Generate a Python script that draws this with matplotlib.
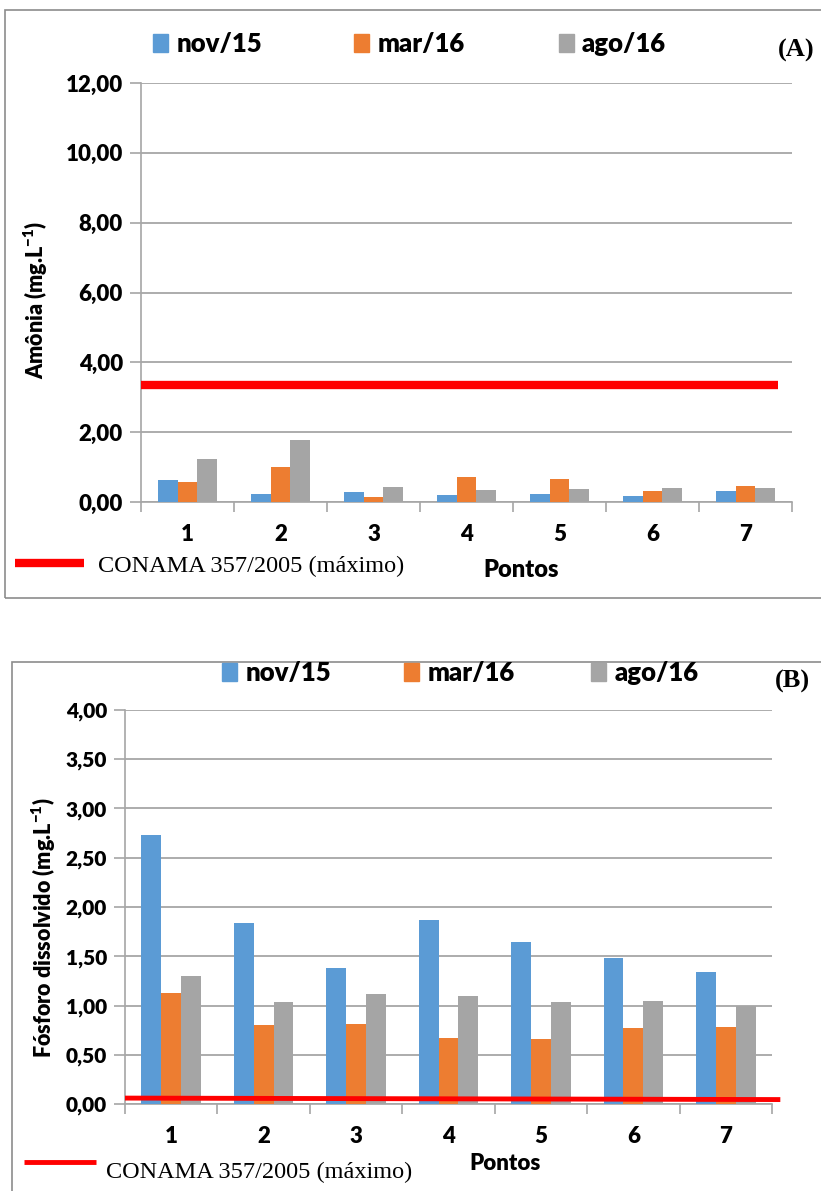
import matplotlib
matplotlib.use('Agg')
import matplotlib.pyplot as plt
from matplotlib.patches import Rectangle, Patch
from matplotlib.lines import Line2D
import numpy as np

pontos = ['1', '2', '3', '4', '5', '6', '7']
series = ['nov/15', 'mar/16', 'ago/16']
cores = ['#5B9BD5', '#ED7D31', '#A5A5A5']

amonia_nov15 = [0.62, 0.22, 0.28, 0.19, 0.24, 0.18, 0.31]
amonia_mar16 = [0.57, 1.00, 0.14, 0.73, 0.65, 0.32, 0.47]
amonia_ago16 = [1.23, 1.78, 0.44, 0.33, 0.37, 0.40, 0.41]
amonia_conama = [3.35, 3.35]

fosforo_nov15 = [2.73, 1.84, 1.38, 1.87, 1.64, 1.48, 1.34]
fosforo_mar16 = [1.13, 0.80, 0.81, 0.67, 0.66, 0.77, 0.78]
fosforo_ago16 = [1.30, 1.04, 1.12, 1.10, 1.04, 1.05, 0.99]
fosforo_conama = [0.06, 0.045]

PESO = 'heavy'
plt.rcParams['font.family'] = ['Lato', 'DejaVu Sans']
plt.rcParams['mathtext.fontset'] = 'custom'
plt.rcParams['mathtext.bf'] = 'Lato:heavy'
plt.rcParams['mathtext.rm'] = 'Lato:heavy'

fig = plt.figure(figsize=(8.21, 11.91), dpi=100)
W, H = 821, 1191

def fx(px):
    return px / W

def fy(py):
    return 1 - py / H

# panel frames
fig.patches.append(Rectangle((fx(5), fy(598)), fx(830), fy(10) - fy(598),
                             transform=fig.transFigure, fill=False, ec='#8C8C8C', lw=1.2))
fig.patches.append(Rectangle((fx(12), fy(1200)), fx(830), fy(662) - fy(1200),
                             transform=fig.transFigure, fill=False, ec='#8C8C8C', lw=1.2))


def painel(ax, dados, ymax, step, ylabel, conama, xline, lw_red, fs_tick):
    x = np.arange(1, len(pontos) + 1)
    w = 0.215
    for i, (vals, c) in enumerate(zip(dados, cores)):
        ax.bar(x + (i - 1) * w, vals, w, color=c, zorder=3)
    ax.plot(xline, conama, color='#FF0000', lw=lw_red, zorder=4, clip_on=False,
            solid_capstyle='butt')
    ax.set_xlim(0.5, len(pontos) + 0.5)
    ax.set_ylim(0, ymax)
    yt = np.arange(0, ymax + step / 2, step)
    ax.set_yticks(yt)
    ax.set_yticklabels([f'{v:.2f}'.replace('.', ',') for v in yt],
                       fontsize=fs_tick, fontweight=PESO)
    ax.yaxis.grid(True, color='#A6A6A6', lw=1.3, zorder=0)
    ax.tick_params(axis='y', length=8, color='#A6A6A6', width=1.2, pad=5)
    ax.set_xticks(np.arange(0.5, len(pontos) + 1, 1))
    ax.set_xticklabels([])
    ax.set_xticks(x, minor=True)
    ax.set_xticklabels(pontos, minor=True, fontsize=16, fontweight=PESO)
    ax.tick_params(axis='x', which='major', length=7, color='#A6A6A6', width=1.2)
    ax.tick_params(axis='x', which='minor', length=0, pad=16)
    for s in ['top', 'right']:
        ax.spines[s].set_visible(False)
    for s in ['left', 'bottom']:
        ax.spines[s].set_color('#A6A6A6')
        ax.spines[s].set_linewidth(1.2)
    ax.set_ylabel(ylabel, fontsize=15.5, fontweight=PESO)


# Panel A
axA = fig.add_axes([fx(141), fy(502), fx(792 - 141), fy(83) - fy(502)])
painel(axA, [amonia_nov15, amonia_mar16, amonia_ago16], 12, 2,
       r'Amônia (mg.L$^{-1}$)', amonia_conama, [0.5, 7.35], 6, 16)
axA.yaxis.set_label_coords(-(141 - 50) / 651, (502 - 300) / 419)

# Panel B
axB = fig.add_axes([fx(125), fy(1104), fx(772 - 125), fy(710) - fy(1104)])
painel(axB, [fosforo_nov15, fosforo_mar16, fosforo_ago16], 4, 0.5,
       r'Fósforo dissolvido (mg.L$^{-1}$)', fosforo_conama, [0.5, 7.59], 3.5, 15)
axB.yaxis.set_label_coords(-(125 - 58) / 647, (1104 - 928) / 394)

# top legends, one entry each
def entrada(i, xpx, ypx):
    fig.legend([Patch(color=cores[i])], [series[i]], loc='center left',
               bbox_to_anchor=(fx(xpx), fy(ypx)), frameon=False, borderaxespad=0,
               borderpad=0, handlelength=0.6, handleheight=0.75, handletextpad=0.3,
               prop={'weight': PESO, 'size': 18.5})

for i, xpx in enumerate([153, 354, 559]):
    entrada(i, xpx, 44)
for i, xpx in enumerate([222, 404, 591]):
    entrada(i, xpx, 673)

fig.text(fx(778), fy(50), '(A)', family='Liberation Serif', fontweight='bold',
         fontsize=19, va='center')
fig.text(fx(775), fy(681), '(B)', family='Liberation Serif', fontweight='bold',
         fontsize=19, va='center')

# CONAMA legends
fig.add_artist(Line2D([fx(15), fx(84)], [fy(563), fy(563)], color='#FF0000', lw=6,
                      solid_capstyle='butt'))
fig.text(fx(98), fy(566), 'CONAMA 357/2005 (máximo)', family='Liberation Serif',
         fontsize=17.5, va='center')
fig.add_artist(Line2D([fx(24), fx(96)], [fy(1162), fy(1162)], color='#FF0000', lw=3.5,
                      solid_capstyle='butt'))
fig.text(fx(106), fy(1172), 'CONAMA 357/2005 (máximo)', family='Liberation Serif',
         fontsize=17.5, va='center')

fig.text(fx(521), fy(570), 'Pontos', fontsize=17, fontweight=PESO, ha='center', va='center')
fig.text(fx(505), fy(1163), 'Pontos', fontsize=16, fontweight=PESO, ha='center', va='center')

fig.savefig('out.png', dpi=100)
